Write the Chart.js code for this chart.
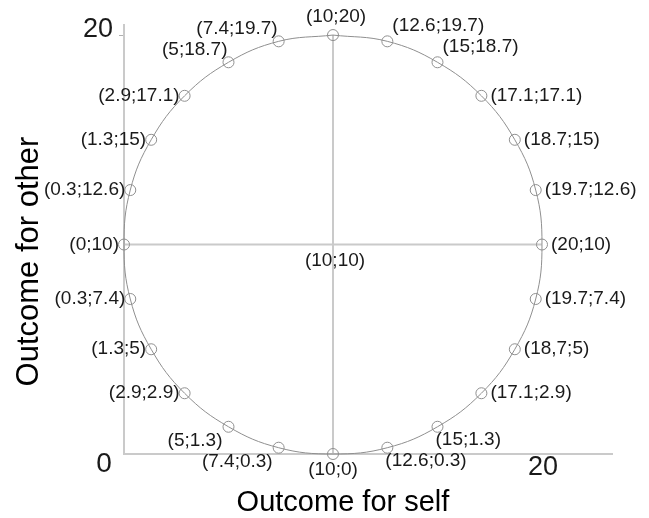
<!DOCTYPE html>
<html>
<head>
<meta charset="utf-8">
<script src="https://cdn.jsdelivr.net/npm/chart.js@4/dist/chart.umd.min.js"></script>
<style>
  body { margin: 0; background: #fff; }
  canvas { display: block; }
</style>
</head>
<body>
<canvas id="chart" width="649" height="518"></canvas>
<script>
// points round the circle, clockwise from the top
const selfValues = [10, 12.6, 15, 17.1, 18.7, 19.7, 20, 19.7, 18.7, 17.1, 15, 12.6, 10, 7.4, 5, 2.9, 1.3, 0.3, 0, 0.3, 1.3, 2.9, 5, 7.4];
const otherValues = [20, 19.7, 18.7, 17.1, 15, 12.6, 10, 7.4, 5, 2.9, 1.3, 0.3, 0, 0.3, 1.3, 2.9, 5, 7.4, 10, 12.6, 15, 17.1, 18.7, 19.7];
const pointLabels = ["(10;20)", "(12.6;19.7)", "(15;18.7)", "(17.1;17.1)", "(18.7;15)", "(19.7;12.6)", "(20;10)", "(19.7;7.4)", "(18,7;5)", "(17.1;2.9)", "(15;1.3)", "(12.6;0.3)", "(10;0)", "(7.4;0.3)", "(5;1.3)", "(2.9;2.9)", "(1.3;5)", "(0.3;7.4)", "(0;10)", "(0.3;12.6)", "(1.3;15)", "(2.9;17.1)", "(5;18.7)", "(7.4;19.7)"];

const centerPoint = { x: 10, y: 10, label: "(10;10)" };
const crossSelf = [0, 20];
const crossOther = [0, 20];

const xTicks = [20];
const yTicks = [20];
const originLabel = "0";
const xTitle = "Outcome for self";
const yTitle = "Outcome for other";

const FONT = "'Liberation Sans', Arial, sans-serif";
const pts = selfValues.map((x, i) => ({ x: x, y: otherValues[i] }));
const loop = pts.concat([pts[0]]);

// labels, tick labels and titles drawn on top
const labelPlugin = {
  id: "labels",
  afterDatasetsDraw(chart) {
    const { ctx, chartArea } = chart;
    const xs = chart.scales.x, ys = chart.scales.y;
    ctx.save();
    ctx.fillStyle = "#1a1a1a";
    ctx.font = "19px " + FONT;

    const all = pts.map((p, i) => ({ x: p.x, y: p.y, label: pointLabels[i] })).concat([centerPoint]);
    all.forEach(p => {
      const px = xs.getPixelForValue(p.x), py = ys.getPixelForValue(p.y);
      const dx = p.x - centerPoint.x, dy = p.y - centerPoint.y;
      let align, tx, ty;
      ctx.textBaseline = "middle";
      if (dx === 0 && dy === 0) {
        align = "center"; tx = px + 2; ty = py + 16;
      } else {
        const a = Math.atan2(dy, dx) * 180 / Math.PI;
        if (Math.abs(a - 90) < 1) { align = "center"; tx = px + 3; ty = py - 18; }
        else if (Math.abs(a + 90) < 1) { align = "center"; tx = px; ty = py + 16; }
        else if (a > 60 && a < 90) { align = "left"; tx = px + 5; ty = py - 16; }
        else if (a > 90 && a < 120) { align = "right"; tx = px - 1; ty = py - 13; }
        else if (a < -60 && a > -90) { align = "left"; tx = px - 2; ty = py + 13; }
        else if (a < -90 && a > -120) { align = "right"; tx = px - 6; ty = py + 14; }
        else {
          const low = a < -50 && a > -130;
          if (dx > 0) { align = "left"; tx = px + (low ? 15 : 9); }
          else { align = "right"; tx = px - (low ? 12 : 5); }
          ty = py + (low ? 3 : 0);
        }
      }
      ctx.textAlign = align;
      ctx.fillText(p.label, tx, ty);
    });

    // tick labels
    ctx.font = "27px " + FONT;
    ctx.textAlign = "center";
    ctx.textBaseline = "middle";
    xTicks.forEach(v => ctx.fillText(String(v), xs.getPixelForValue(v) + 1, chartArea.bottom + 14));
    ctx.textAlign = "right";
    ctx.textBaseline = "alphabetic";
    yTicks.forEach(v => ctx.fillText(String(v), chartArea.left - 11, ys.getPixelForValue(v) + 2));
    ctx.font = "28px " + FONT;
    ctx.textAlign = "center";
    ctx.textBaseline = "middle";
    ctx.fillText(originLabel, chartArea.left - 20, chartArea.bottom + 10);

    // axis titles
    ctx.fillStyle = "#000";
    ctx.font = "29px " + FONT;
    ctx.fillText(xTitle, xs.getPixelForValue(10) + 10, chartArea.bottom + 49);
    ctx.save();
    ctx.translate(29, ys.getPixelForValue(10) + 17);
    ctx.rotate(-Math.PI / 2);
    ctx.font = "31px " + FONT;
    ctx.fillText(yTitle, 0, 0);
    ctx.restore();
    ctx.restore();
  }
};

new Chart(document.getElementById("chart"), {
  type: "scatter",
  data: {
    datasets: [
      {
        data: loop,
        showLine: true,
        tension: 0.4,
        borderColor: "#8f8f8f",
        borderWidth: 1,
        pointRadius: c => (c.dataIndex === loop.length - 1 ? 0 : 5.5),
        pointBorderColor: "#8f8f8f",
        pointBackgroundColor: "rgba(0,0,0,0)",
        pointBorderWidth: 1,
        clip: false
      },
      {
        data: crossOther.map(y => ({ x: centerPoint.x, y: y })),
        showLine: true,
        borderColor: "#cacaca",
        borderWidth: 2,
        pointRadius: 0
      },
      {
        data: crossSelf.map(x => ({ x: x, y: centerPoint.y })),
        showLine: true,
        borderColor: "#cacaca",
        borderWidth: 2,
        pointRadius: 0
      }
    ]
  },
  options: {
    responsive: false,
    animation: false,
    layout: { padding: { left: 119, right: 37, top: 25, bottom: 64 } },
    plugins: { legend: { display: false }, tooltip: { enabled: false } },
    scales: {
      x: {
        type: "linear",
        min: 0,
        max: 23.35,
        ticks: { display: false },
        grid: { display: false, drawTicks: false },
        border: { color: "#cacaca", width: 2 }
      },
      y: {
        type: "linear",
        min: 0,
        max: 20.48,
        afterBuildTicks: s => { s.ticks = yTicks.map(v => ({ value: v })); },
        ticks: { display: false },
        grid: { display: true, drawOnChartArea: false, drawTicks: true, tickLength: 5, color: "#b0b0b0" },
        border: { color: "#cacaca", width: 2 }
      }
    }
  },
  plugins: [labelPlugin]
});
</script>
</body>
</html>
